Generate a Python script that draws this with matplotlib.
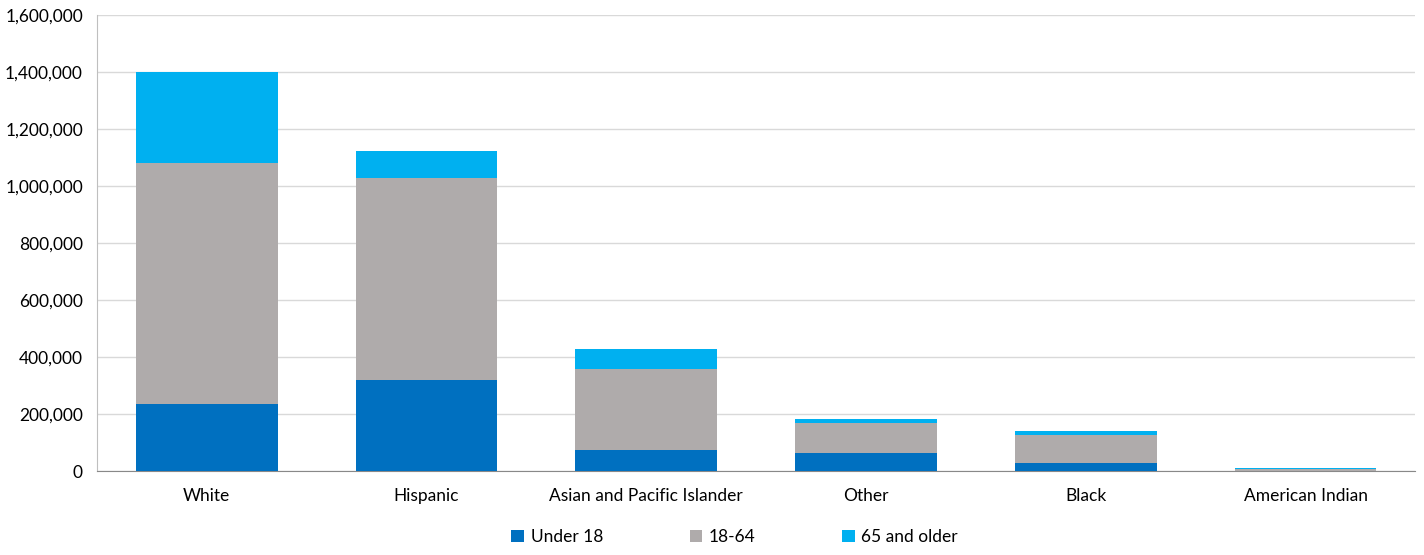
import numpy as np
import matplotlib.pyplot as plt
from matplotlib.ticker import FuncFormatter

plt.rcParams['font.family'] = ['Lato', 'DejaVu Sans']

groups = ['White', 'Hispanic', 'Asian and Pacific Islander', 'Other', 'Black', 'American Indian']
under18 = [235000, 319000, 74000, 63000, 29000, 2000]
adults = [845000, 709000, 284000, 105000, 97000, 6000]   # 18-64
seniors = [320000, 95000, 70000, 14000, 14000, 2000]    # 65 and older

x = np.arange(len(groups))
w = 0.645
c1, c2, c3 = '#0070c0', '#afabab', '#00b0f0'

fig = plt.figure(figsize=(14.24, 5.55), dpi=100)
ax = fig.add_axes([0.068, 0.151, 0.926, 0.822])

b1 = ax.bar(x, under18, w, color=c1, label='Under 18', zorder=3)
b2 = ax.bar(x, adults, w, bottom=under18, color=c2, label='18-64', zorder=3)
bot = np.array(under18) + np.array(adults)
b3 = ax.bar(x, seniors, w, bottom=bot, color=c3, label='65 and older', zorder=3)

ax.set_ylim(0, 1600000)
ax.set_xlim(-0.5, len(groups) - 0.5)
ax.set_yticks(np.arange(0, 1600001, 200000))
ax.yaxis.set_major_formatter(FuncFormatter(lambda v, p: f'{int(v):,}'))
ax.set_xticks(x)
ax.set_xticklabels(groups)
ax.tick_params(axis='both', length=0, labelsize=12.5, colors='#000000')
ax.tick_params(axis='x', pad=12)
ax.tick_params(axis='y', pad=10)
ax.grid(axis='y', color='#d9d9d9', lw=1, zorder=0)
for s in ['top', 'right']:
    ax.spines[s].set_visible(False)
ax.spines['left'].set_color('#bfbfbf')
ax.spines['bottom'].set_color('#898989')

fig.legend(handles=[b1, b2, b3], loc='lower center', bbox_to_anchor=(0.516, -0.01),
           ncol=3, frameon=False, fontsize=12.5, handlelength=0.7, handleheight=0.7,
           handletextpad=0.4, columnspacing=5.0)

fig.savefig('out.png', dpi=100)
